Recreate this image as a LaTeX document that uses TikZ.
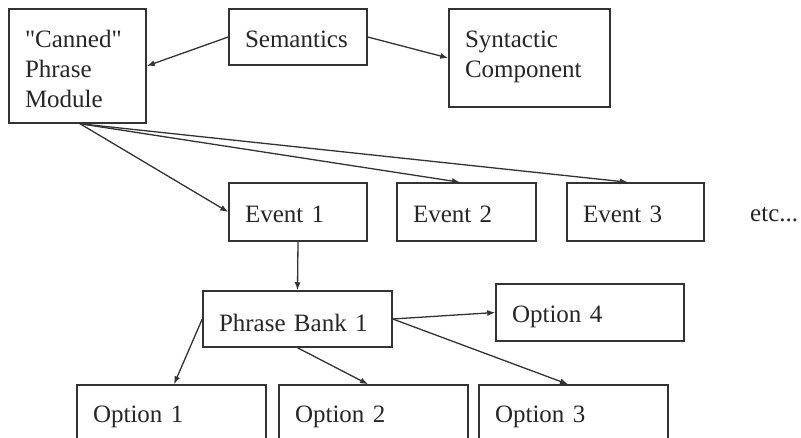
\documentclass[tikz,border=0pt]{standalone}
\usepackage{fontspec}
\newfontfamily\plainfont{Liberation Serif}
\usetikzlibrary{arrows.meta}
\begin{document}
\begin{tikzpicture}[x=1pt,y=-1pt,
  box/.style={draw=black!80,line width=1.5pt,rectangle,inner xsep=16pt,inner ysep=0pt,
    align=left,font=\plainfont\fontsize{25}{30}\selectfont,text=black!85,text depth=0pt},
  arr/.style={draw=black!80,line width=1.3pt,-{Latex[length=8pt,width=6pt]}}]
\useasboundingbox (0,0) rectangle (801,438);
\clip (0,0) rectangle (801,438);
\node[box,minimum width=137pt,text width=105pt,minimum height=114pt,text height=0pt,text depth=36pt] (canned) at (77.5,66) {"Canned"\\Phrase\\Module};
\node[box,minimum width=138pt,text width=106pt,minimum height=56pt,text height=22pt] (sem) at (298,37) {Semantics};
\node[box,minimum width=161pt,text width=129pt,minimum height=98pt,text height=0pt,text depth=20pt] (syn) at (529.5,58) {Syntactic\\Component};
\node[box,minimum width=138pt,text width=106pt,minimum height=58pt,text height=22pt] (ev1) at (298,212) {Event 1};
\node[box,minimum width=139pt,text width=107pt,minimum height=58pt,text height=22pt] (ev2) at (466.5,212) {Event 2};
\node[box,minimum width=137pt,text width=105pt,minimum height=58pt,text height=22pt] (ev3) at (635.5,212) {Event 3};
\node[font=\plainfont\fontsize{25}{30}\selectfont,text=black!85,anchor=base west,inner sep=0pt] (etc) at (750,222) {etc...};
\node[box,minimum width=189pt,text width=157pt,minimum height=56pt,text height=26pt] (pb1) at (297.5,319) {Phrase Bank 1};
\node[box,minimum width=188pt,text width=156pt,minimum height=57pt,text height=21pt] (opt4) at (590,312.5) {Option 4};
\node[box,minimum width=189pt,text width=157pt,minimum height=60pt,text height=16pt] (opt1) at (171.5,415) {Option 1};
\node[box,minimum width=189pt,text width=157pt,minimum height=60pt,text height=16pt] (opt2) at (373.5,415) {Option 2};
\node[box,minimum width=189pt,text width=157pt,minimum height=60pt,text height=16pt] (opt3) at (573.5,415) {Option 3};
\draw[arr] (sem.west) -- (canned.east);
\draw[arr] (sem.east) -- (syn.west);
\draw[arr] ([xshift=2.5pt]canned.south) -- (ev1.west);
\draw[arr] ([xshift=2.5pt]canned.south) -- ([xshift=-6.5pt]ev2.north);
\draw[arr] ([xshift=2.5pt]canned.south) -- ([xshift=-7.5pt]ev3.north);
\draw[arr] (ev1.south) -- (pb1.north);
\draw[arr] (pb1.west) -- ([xshift=2.5pt]opt1.north);
\draw[arr] (pb1.south) -- ([xshift=-5.5pt]opt2.north);
\draw[arr] (pb1.east) -- (opt4.west);
\draw[arr] (pb1.east) -- ([xshift=-5.5pt]opt3.north);
\end{tikzpicture}
\end{document}
